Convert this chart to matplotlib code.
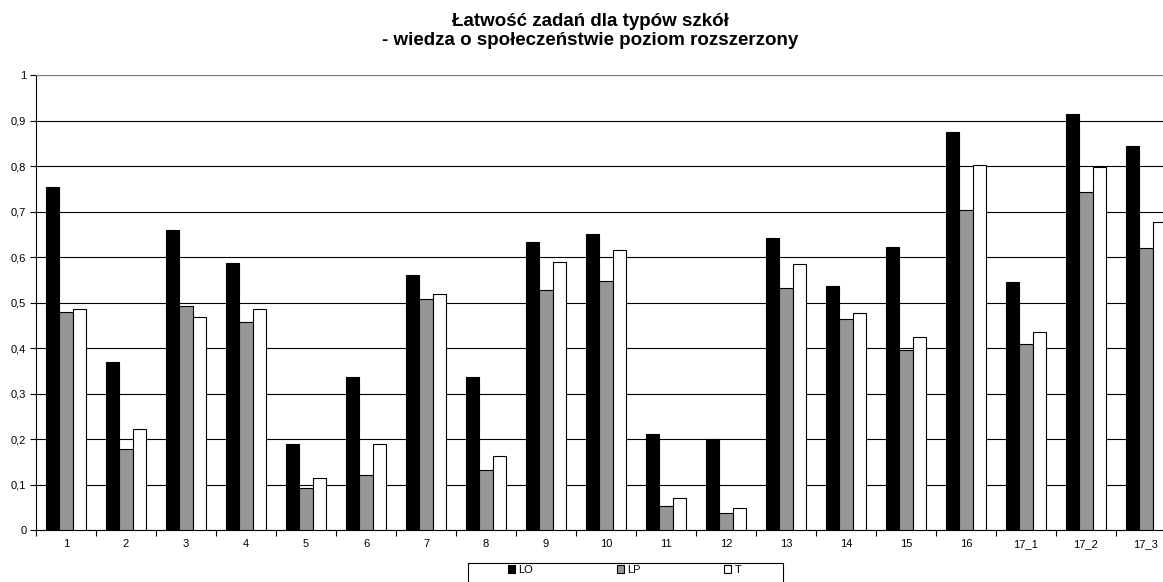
import matplotlib
matplotlib.use("Agg")
import matplotlib.pyplot as plt
from matplotlib.patches import Rectangle
import numpy as np

plt.rcParams["font.family"] = ["Liberation Sans", "DejaVu Sans"]

tasks = ["1", "2", "3", "4", "5", "6", "7", "8", "9", "10", "11", "12",
         "13", "14", "15", "16", "17_1", "17_2", "17_3"]
lo = [0.754, 0.370, 0.660, 0.586, 0.189, 0.337, 0.561, 0.337, 0.633, 0.651,
      0.212, 0.200, 0.643, 0.537, 0.622, 0.874, 0.545, 0.915, 0.844]
lp = [0.479, 0.179, 0.493, 0.458, 0.092, 0.122, 0.509, 0.133, 0.527, 0.548,
      0.053, 0.037, 0.533, 0.464, 0.395, 0.704, 0.409, 0.744, 0.621]
t = [0.487, 0.223, 0.468, 0.487, 0.114, 0.190, 0.520, 0.163, 0.590, 0.616,
     0.070, 0.050, 0.584, 0.477, 0.424, 0.802, 0.436, 0.799, 0.678]

W, H = 1163, 582
fig = plt.figure(figsize=(W / 100, H / 100), dpi=100)
# plot area runs past the right edge, as in the original export
ax = fig.add_axes([36 / W, (H - 530.3) / H, 1140 / W, 455.3 / H])

x = np.arange(len(tasks))
bw = 0.222
ax.bar(x - bw, lo, bw, color="black", edgecolor="black", linewidth=0.8, label="LO", zorder=3)
ax.bar(x, lp, bw, color="#969696", edgecolor="black", linewidth=0.8, label="LP", zorder=3)
ax.bar(x + bw, t, bw, color="white", edgecolor="black", linewidth=0.8, label="T", zorder=3)

yt = np.round(np.arange(0, 1.01, 0.1), 1)
ax.set_xlim(-0.5, len(tasks) - 0.5)
ax.set_ylim(0, 1)
ax.set_yticks(yt)
ax.set_yticklabels([f"{v:g}".replace(".", ",") for v in yt])
ax.yaxis.grid(True, color="black", linewidth=0.8, zorder=0)
ax.set_xticks(x)
ax.set_xticklabels(tasks)
ax.set_xticks(np.arange(-0.5, len(tasks), 1), minor=True)
ax.tick_params(axis="x", which="major", length=0, labelsize=8, pad=6)
ax.tick_params(axis="x", which="minor", length=4, direction="out", width=0.8)
ax.tick_params(axis="y", length=4, direction="out", labelsize=8, width=0.8, pad=3)

ax.spines["top"].set_color("#808080")
ax.spines["right"].set_visible(False)
ax.spines["left"].set_linewidth(0.8)
ax.spines["bottom"].set_linewidth(0.8)

fig.text(590 / W, 1 - 26 / H, "Łatwość zadań dla typów szkół", ha="center", va="baseline",
         fontsize=13.5, fontweight="bold")
fig.text(590 / W, 1 - 45 / H, "- wiedza o społeczeństwie poziom rozszerzony", ha="center",
         va="baseline", fontsize=13.5, fontweight="bold")

# legend frame drawn separately so the entries can sit well inside it
fig.patches.append(Rectangle((468 / W, -0.05), (783 - 468) / W, 0.05 + (H - 563) / H,
                             transform=fig.transFigure, facecolor="white",
                             edgecolor="black", linewidth=0.8))
leg = fig.legend(loc="center left", bbox_to_anchor=(508 / W, 1 - 570 / H), ncol=3,
                 fontsize=8, frameon=False, borderpad=0, borderaxespad=0,
                 handlelength=0.65, handleheight=0.65, handletextpad=0.3,
                 columnspacing=7.5)

fig.savefig("out.png", dpi=100)
